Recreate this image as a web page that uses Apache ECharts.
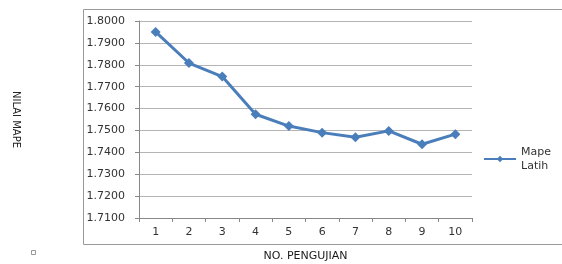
<!DOCTYPE html>
<html>
<head>
<meta charset="utf-8">
<script src="https://cdn.jsdelivr.net/npm/echarts@6/dist/echarts.min.js"></script>
<style>
    html, body { margin: 0; padding: 0; background: #fff; }
    #main { width: 562px; height: 264px; }
</style>
</head>
<body>
<div id="main"></div>
<script>
// data
var pengujian = ['1', '2', '3', '4', '5', '6', '7', '8', '9', '10'];
var mapeLatih = [1.7950, 1.7808, 1.7746, 1.7574, 1.7520, 1.7490, 1.7469, 1.7498, 1.7437, 1.7483];
var seriesName = 'Mape Latih';

var chart = echarts.init(document.getElementById('main'));
var option = {
    animation: false,
    backgroundColor: '#fff',
    textStyle: { fontFamily: 'DejaVu Sans' },
    grid: { left: 139, right: 90, top: 21, bottom: 46, outerBoundsMode: 'none', containLabel: false },
    legend: {
        right: 6,
        top: 140,
        orient: 'vertical',
        itemWidth: 32,
        itemHeight: 8,
        itemGap: 2,
        formatter: function () { return 'Mape\nLatih'; },
        textStyle: { color: '#333', fontSize: 11, lineHeight: 14 },
        data: [seriesName]
    },
    xAxis: {
        type: 'category',
        data: pengujian,
        boundaryGap: true,
        name: 'NO. PENGUJIAN',
        nameLocation: 'middle',
        nameGap: 33,
        nameTextStyle: { color: '#1a1a1a', fontSize: 11 },
        axisLine: { lineStyle: { color: '#888' } },
        axisTick: { show: true, length: 4, lineStyle: { color: '#888' } },
        axisLabel: { color: '#333', fontSize: 11, margin: 9 }
    },
    yAxis: {
        type: 'value',
        min: 1.71,
        max: 1.80,
        interval: 0.01,
        name: 'NILAI MAPE',
        nameLocation: 'middle',
        nameRotate: -90,
        nameGap: 118,
        nameTextStyle: { color: '#222', fontSize: 10 },
        axisLine: { show: true, lineStyle: { color: '#888' } },
        axisTick: { show: true, length: 4, lineStyle: { color: '#888' } },
        axisLabel: {
            color: '#333',
            fontSize: 11,
            margin: 14,
            formatter: function (v) { return v.toFixed(4); }
        },
        splitLine: { lineStyle: { color: '#b5b5b5' } }
    },
    graphic: [
        {
            type: 'rect',
            shape: { x: 83.5, y: 9.5, width: 540, height: 235 },
            style: { fill: 'none', stroke: '#999', lineWidth: 1 },
            z: -1
        },
        {
            type: 'rect',
            shape: { x: 31.5, y: 250.5, width: 4, height: 4 },
            style: { fill: '#fff', stroke: '#999', lineWidth: 1 }
        }
    ],
    series: [{
        name: seriesName,
        type: 'line',
        data: mapeLatih,
        symbol: 'diamond',
        symbolSize: 10,
        lineStyle: { color: '#4a7ebb', width: 3 },
        itemStyle: { color: '#4a7ebb' }
    }]
};
chart.setOption(option);
</script>
</body>
</html>
